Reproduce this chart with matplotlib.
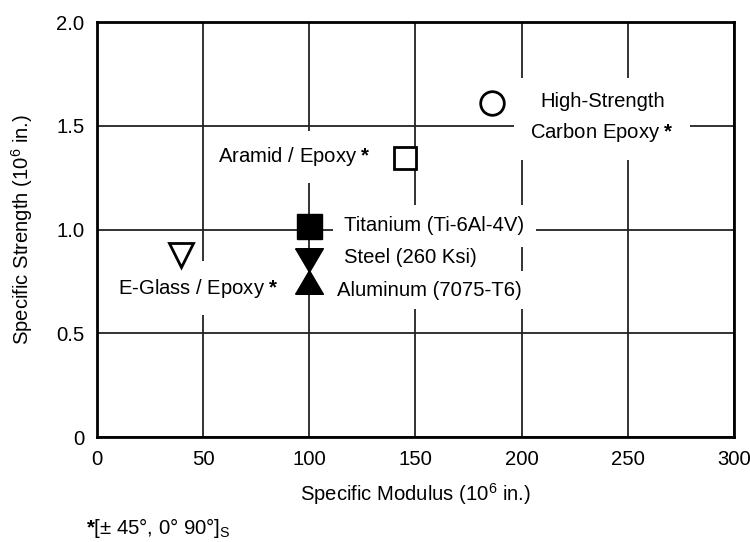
import matplotlib
matplotlib.use('Agg')
import matplotlib.pyplot as plt

plt.rcParams['font.family'] = ['Liberation Sans', 'DejaVu Sans']
plt.rcParams['mathtext.fontset'] = 'custom'
plt.rcParams['mathtext.rm'] = 'Liberation Sans'
plt.rcParams['mathtext.it'] = 'Liberation Sans:italic'
plt.rcParams['mathtext.bf'] = 'Liberation Sans:bold'
plt.rcParams['mathtext.default'] = 'regular'

# 材料数据 (比模量, 比强度)
materials = ['High-Strength Carbon Epoxy', 'Aramid / Epoxy', 'Titanium (Ti-6Al-4V)',
             'Steel (260 Ksi)', 'Aluminum (7075-T6)', 'E-Glass / Epoxy']
modulus = [186, 145, 100, 100, 100, 39.5]
strength = [1.61, 1.345, 1.017, 0.855, 0.745, 0.875]

x_ticks = [0, 50, 100, 150, 200, 250, 300]
y_ticks = [0, 0.5, 1.0, 1.5, 2.0]
y_ticklabels = ['0', '0.5', '1.0', '1.5', '2.0']

fs = 14.6

fig = plt.figure(figsize=(7.5, 5.42), dpi=100)
ax = fig.add_axes([0.1293, 0.1937, 0.8493, 0.7657])
ax.set_xlim(0, 300)
ax.set_ylim(0, 2.0)
ax.set_xticks(x_ticks)
ax.set_yticks(y_ticks)
ax.set_yticklabels(y_ticklabels)
ax.tick_params(axis='both', length=0, labelsize=fs)
ax.tick_params(axis='x', pad=9)
ax.tick_params(axis='y', pad=9)
ax.grid(True, color='#222222', linewidth=1.3, zorder=0)
ax.set_axisbelow(True)
for s in ax.spines.values():
    s.set_linewidth(2.0)
    s.set_zorder(5)

ax.set_xlabel('Specific Modulus (10$^6$ in.)', fontsize=fs, labelpad=9)
ax.set_ylabel('Specific Strength (10$^6$ in.)', fontsize=fs, labelpad=15)

# 标记
ax.plot(modulus[0], strength[0], 'o', ms=17, mfc='white', mec='black', mew=2, zorder=4)
ax.plot(modulus[1], strength[1], 's', ms=16, mfc='white', mec='black', mew=2, zorder=4)
ax.plot(modulus[2], strength[2], 's', ms=18, mfc='black', mec='black', zorder=4)
tri_down = [(-1, 0.85), (1, 0.85), (0, -0.85), (-1, 0.85)]
tri_up = [(-1, -0.85), (1, -0.85), (0, 0.85), (-1, -0.85)]
ax.plot(modulus[3], strength[3], marker=tri_down, ms=20, mfc='black', mec='black', ls='none', zorder=4)
ax.plot(modulus[4], strength[4], marker=tri_up, ms=20, mfc='black', mec='black', ls='none', zorder=4)
ax.plot(modulus[5], strength[5], 'v', ms=17, mfc='white', mec='black', mew=2, zorder=4)

star = r' $\mathbf{*}$'
box = lambda p: dict(boxstyle='square,pad=%s' % p, fc='white', ec='none')

ax.text(238, 1.537, 'High-Strength\nCarbon Epoxy' + star, fontsize=fs, ha='center', va='center',
        linespacing=1.55, bbox=box(0.8), zorder=2)
ax.text(129, 1.35, 'Aramid / Epoxy' + star, fontsize=fs, ha='right', va='center',
        bbox=box(0.7), zorder=2)
ax.text(116.5, 1.017, materials[2], fontsize=fs, ha='left', va='center', bbox=box(0.55), zorder=2)
ax.text(116.5, 0.863, materials[3], fontsize=fs, ha='left', va='center', bbox=box(0.45), zorder=2)
ax.text(113, 0.708, materials[4], fontsize=fs, ha='left', va='center', bbox=box(0.45), zorder=2)
ax.text(10, 0.718, 'E-Glass / Epoxy' + star, fontsize=fs, ha='left', va='center',
        bbox=box(0.75), zorder=2)

fig.text(86 / 750, 1 - 528 / 542, r'$\mathbf{*}$[± 45°, 0° 90°]$_S$', fontsize=fs,
         ha='left', va='center')

fig.savefig('out.png', dpi=100)
